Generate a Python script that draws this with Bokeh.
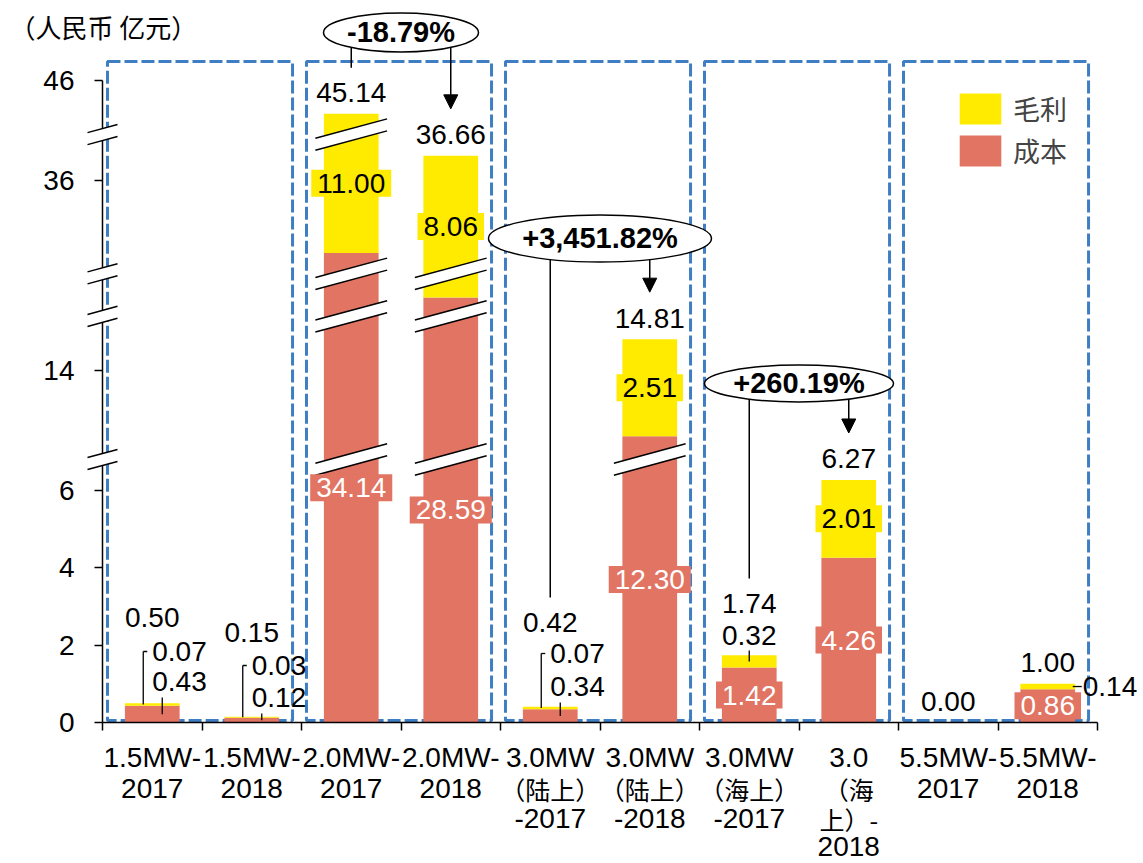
import math
from bokeh.plotting import figure
from bokeh.models import (Label, Range1d, FixedTicker, Legend, LegendItem, Arrow,
                          NormalHead, PolyAnnotation, ColumnDataSource)
from bokeh.embed import file_html
from bokeh.resources import INLINE

# ---------------- data ----------------
categories = ["1.5MW-\n2017", "1.5MW-\n2018", "2.0MW-\n2017", "2.0MW-\n2018",
              "3.0MW\n（陆上）\n-2017", "3.0MW\n（陆上）\n-2018",
              "3.0MW\n（海上）\n-2017", "3.0\n（海\n上）-\n2018",
              "5.5MW-\n2017", "5.5MW-\n2018"]
cost = [0.43, 0.12, 34.14, 28.59, 0.34, 12.30, 1.42, 4.26, 0.00, 0.86]
margin = [0.07, 0.03, 11.00, 8.06, 0.07, 2.51, 0.32, 2.01, 0.00, 0.14]
total = [0.50, 0.15, 45.14, 36.66, 0.42, 14.81, 1.74, 6.27, 0.00, 1.00]
y_tick_values = [0, 2, 4, 6, 14, 36, 46]
axis_breaks = [(6.8, 11.7), (15.4, 28.1), (29.2, 33.6), (37.2, 44.6)]
change_from = [2, 4, 6]
change_to = [3, 5, 7]
change_text = ["-18.79%", "+3,451.82%", "+260.19%"]
group_first = [0, 2, 4, 6, 8]
series_names = ["毛利", "成本"]
unit_text = "（人民币 亿元）"

# ---------------- layout / style ----------------
W, H = 1143, 863
AXIS_LEFT_PX, AXIS_BASE_PX = 102, 722        # where the axes sit on the canvas
N = len(categories)
XPX = 99.5                                    # px per category
YPX = 38.68                                   # px per value unit
BAR_W = 0.55
RED = "#E17462"
YELLOW = "#FFEB00"
BLUE = "#3F7EC2"
LATIN = "Liberation Sans"
CJK = "Noto Sans CJK SC"
TOP_GAP = 21
MIN_INSIDE_PX = 30
TOTAL_LABEL_PX = {0: 105, 1: 90, 4: 100, 6: 119}
MARGIN_STYLE = {0: "bracket", 1: "bracket", 4: "bracket", 6: "above", 9: "side"}
MARGIN_LABEL_PX = {0: 71, 1: 57, 4: 69, 6: 87}
COST_LABEL_PX = {0: 41, 1: 25, 4: 36}
ELLIPSE_Y_PX = [690, 484, 339]
ELLIPSE_WH = [(155, 39), (223, 47), (189, 37)]
XLABEL_LINE_PX = [35, 66, 96, 124]
BREAK_SLOPE = 0.27
BREAK_GAP = 12


def squash(v):
    d = v
    for lo, hi in axis_breaks:
        if v >= hi:
            d -= hi - lo
        elif v > lo:
            d -= v - lo
    return float(d)


p = figure(width=W, height=H,
           x_range=Range1d(-AXIS_LEFT_PX / XPX, (W - AXIS_LEFT_PX) / XPX),
           y_range=Range1d(-(H - AXIS_BASE_PX) / YPX, AXIS_BASE_PX / YPX),
           output_backend="svg", toolbar_location=None,
           min_border=0, min_border_left=0, min_border_right=0,
           min_border_top=0, min_border_bottom=0,
           background_fill_color="white", border_fill_color="white",
           outline_line_color=None)
p.grid.visible = False

# axes (kept in their side panels, drawn at the data origin)
xa = p.xaxis[0]
xa.fixed_location = 0
xa.ticker = FixedTicker(ticks=list(range(N + 1)))
xa.major_label_overrides = {i: "" for i in range(N + 1)}
xa.bounds = (0, N)
xa.major_tick_in = 0
xa.major_tick_out = 8
xa.minor_tick_line_color = None
xa.axis_line_color = "black"
xa.axis_line_width = 1.5
xa.major_tick_line_width = 1.5
xa.major_tick_line_color = "black"

ya = p.yaxis[0]
ya.fixed_location = 0
ytick_pos = [squash(t) for t in y_tick_values]
ya.ticker = FixedTicker(ticks=ytick_pos)
ya.major_label_overrides = {pos: str(t) for pos, t in zip(ytick_pos, y_tick_values)}
ya.bounds = (0, squash(y_tick_values[-1]))
ya.major_tick_in = 0
ya.major_tick_out = 8
ya.minor_tick_line_color = None
ya.axis_line_color = "black"
ya.axis_line_width = 1.5
ya.major_tick_line_width = 1.5
ya.major_tick_line_color = "black"
ya.major_label_standoff = 20
ya.major_label_text_font = LATIN
ya.major_label_text_font_size = "28px"
ya.major_label_text_color = "black"

# group boxes
p.quad(left=[g + 0.05 for g in group_first], right=[g + 1.91 for g in group_first],
       bottom=2 / YPX, top=661 / YPX, fill_color=None, line_color=BLUE,
       line_width=3, line_dash="13 4")

# stacked bars
xs = [i + 0.5 for i in range(N)]
cost_top = [squash(c) for c in cost]
stack_top = [squash(c + m) for c, m in zip(cost, margin)]
src = ColumnDataSource(dict(x=xs, zero=[0.0] * N, cost_top=cost_top, stack_top=stack_top))
r_cost = p.vbar(x="x", width=BAR_W, bottom="zero", top="cost_top", source=src,
                fill_color=RED, line_color=None)
r_margin = p.vbar(x="x", width=BAR_W, bottom="cost_top", top="stack_top", source=src,
                  fill_color=YELLOW, line_color=None)


def add_text(x, y, text, dx=0, dy=0, align="center", font=LATIN, size=28,
             color="black", bold=False, bg=None):
    kw = {}
    if bg is not None:
        kw = dict(background_fill_color=bg, background_fill_alpha=1.0, padding=(6, 4))
    p.add_layout(Label(x=x, y=y, x_offset=dx, y_offset=dy, text=text,
                       text_align=align, text_baseline="middle", text_font=font,
                       text_font_size=f"{size}px", text_color=color,
                       text_font_style="bold" if bold else "normal", **kw))


def add_break(xc, d, half_px):
    hx = half_px / XPX
    rise = BREAK_SLOPE * half_px / YPX
    g = BREAK_GAP / 2 / YPX
    p.add_layout(PolyAnnotation(xs=[xc - hx, xc + hx, xc + hx, xc - hx],
                                ys=[d - rise - g, d + rise - g, d + rise + g, d - rise + g],
                                fill_color="white", fill_alpha=1.0, line_color=None))
    for s in (-1, 1):
        p.add_layout(Arrow(x_start=xc - hx, y_start=d - rise + s * g,
                           x_end=xc + hx, y_end=d + rise + s * g,
                           start=None, end=None, line_color="black", line_width=1.5))


# break marks on the axis and on the bars that cross them
for lo, hi in axis_breaks:
    d = squash(hi)
    add_break(0.0, d, 15)
    for i in range(N):
        if cost[i] + margin[i] > hi:
            add_break(xs[i], d, BAR_W * XPX / 2 + 8.5)

# data labels
lx0, ly0, lx1, ly1 = [], [], [], []


def leader(i, dx0, y0, dx1, y1):
    lx0.append(xs[i] + dx0 / XPX)
    ly0.append(y0 / YPX)
    lx1.append(xs[i] + dx1 / XPX)
    ly1.append(y1 / YPX)


def total_label_px(i):
    return TOTAL_LABEL_PX.get(i, stack_top[i] * YPX + TOP_GAP)


for i in range(N):
    add_text(xs[i], 0, f"{total[i]:.2f}", dy=total_label_px(i))
    if margin[i] > 0:
        seg = (stack_top[i] - cost_top[i]) * YPX
        mid = (stack_top[i] + cost_top[i]) / 2
        txt = f"{margin[i]:.2f}"
        if seg >= MIN_INSIDE_PX:
            add_text(xs[i], mid, txt, bg=YELLOW)
        else:
            style = MARGIN_STYLE[i]
            if style == "bracket":
                ly = MARGIN_LABEL_PX[i]
                add_text(xs[i], 0, txt, dy=ly, align="left")
                leader(i, -9, mid * YPX, -9, ly)
                leader(i, -9, ly, -5, ly)
            elif style == "above":
                ly = MARGIN_LABEL_PX[i]
                add_text(xs[i], 0, txt, dy=ly)
                leader(i, 0, ly - 15, 0, mid * YPX)
            else:
                add_text(xs[i], 0, txt, dx=35, dy=mid * YPX, align="left")
                leader(i, 25, mid * YPX, 34, mid * YPX)
    if cost[i] > 0:
        seg = cost_top[i] * YPX
        txt = f"{cost[i]:.2f}"
        if seg >= MIN_INSIDE_PX:
            add_text(xs[i], cost_top[i] / 2, txt, bg=RED, color="white")
        else:
            ly = COST_LABEL_PX[i]
            add_text(xs[i], 0, txt, dy=ly, align="left")
            leader(i, 10, ly - 16, 10, cost_top[i] / 2 * YPX)

# change call-outs
cx0, cy0, cx1, cy1 = [], [], [], []
ex, ey, ew, eh = [], [], [], []
for k, (a, b) in enumerate(zip(change_from, change_to)):
    xm = (xs[a] + xs[b]) / 2
    cy = ELLIPSE_Y_PX[k]
    w, h = ELLIPSE_WH[k]
    cx0.append(xs[a]); cy0.append(cy / YPX)
    cx1.append(xs[a]); cy1.append((total_label_px(a) + 25) / YPX)
    ex.append(xm); ey.append(cy / YPX); ew.append(w); eh.append(h)
    dxp = (xs[b] - xm) * XPX
    edge = cy - (h / 2) * math.sqrt(max(0.0, 1 - (dxp / (w / 2)) ** 2))
    p.add_layout(Arrow(x_start=xs[b], y_start=edge / YPX, x_end=xs[b],
                       y_end=(total_label_px(b) + 26) / YPX, line_width=1.5,
                       line_color="black", start=None,
                       end=NormalHead(size=14, fill_color="black", line_color="black")))
    add_text(xm, cy / YPX, change_text[k], size=29, bold=True, dy=1)

p.segment(x0=lx0, y0=ly0, x1=lx1, y1=ly1, line_color="black", line_width=1.3)
p.segment(x0=cx0, y0=cy0, x1=cx1, y1=cy1, line_color="black", line_width=1.5)
p.ellipse(x=ex, y=ey, width=ew, height=eh, width_units="screen", height_units="screen",
          fill_color="white", line_color="black", line_width=1.5)

# category labels (wrapped lines)
for i, name in enumerate(categories):
    for j, line in enumerate(name.split("\n")):
        is_cjk = any(ord(ch) > 0x2E80 for ch in line)
        add_text(xs[i], 0, line, dy=-XLABEL_LINE_PX[j],
                 font=CJK if is_cjk else LATIN, size=25 if is_cjk else 28)

# unit title
add_text(0, 0, unit_text, dx=-93, dy=696, align="left", font=CJK, size=26)

# legend (glyph box is drawn at 80% of the glyph area)
legend = Legend(items=[LegendItem(label=series_names[0], renderers=[r_margin]),
                       LegendItem(label=series_names[1], renderers=[r_cost])],
                location=(954, H - 170), glyph_width=52, glyph_height=39, spacing=3,
                padding=0, margin=0, label_standoff=7, label_text_font=CJK,
                label_text_font_size="27px", border_line_color=None,
                background_fill_alpha=0)
p.add_layout(legend)

with open("out.html", "w", encoding="utf-8") as f:
    f.write(file_html(p, INLINE, title="chart"))
